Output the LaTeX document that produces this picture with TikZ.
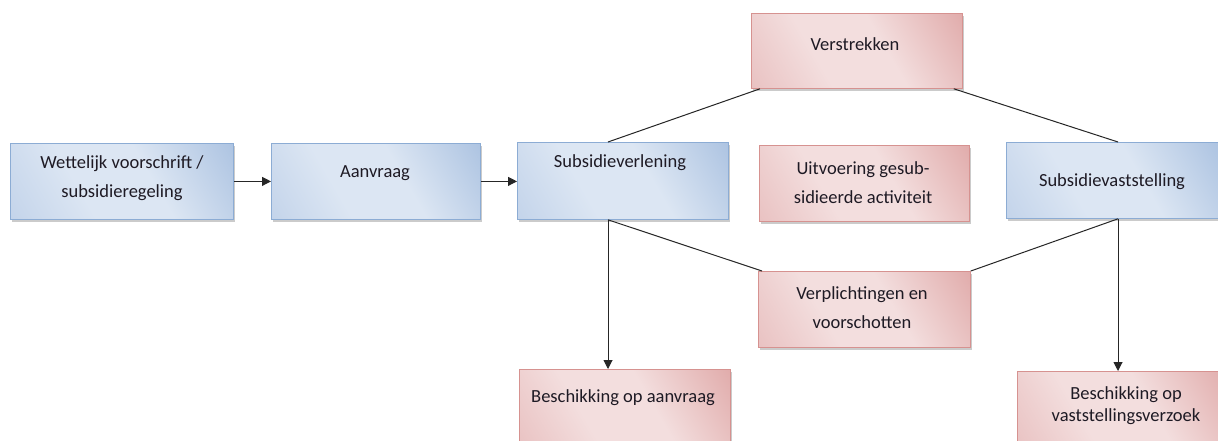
\documentclass[tikz,border=0pt]{standalone}
\usepackage{fontspec}
\setmainfont{Carlito}
\usetikzlibrary{shadows,arrows.meta}
\definecolor{bdark}{RGB}{145,175,215}
\definecolor{bmid}{RGB}{178,199,228}
\definecolor{blight}{RGB}{220,230,243}
\definecolor{bborder}{RGB}{140,172,212}
\definecolor{rdark}{RGB}{214,142,141}
\definecolor{rmid}{RGB}{226,174,174}
\definecolor{rlight}{RGB}{243,222,222}
\definecolor{rborder}{RGB}{214,146,144}
\definecolor{txt}{RGB}{30,26,36}
\pgfdeclarehorizontalshading{blueshade}{100bp}{color(0bp)=(bmid); color(38bp)=(blight); color(58bp)=(blight); color(100bp)=(bdark)}
\pgfdeclarehorizontalshading{redshade}{100bp}{color(0bp)=(rmid); color(38bp)=(rlight); color(58bp)=(rlight); color(100bp)=(rdark)}
\tikzset{
  boxbase/.style={rectangle, anchor=north west, inner sep=0pt, line width=0.8pt,
    drop shadow={shadow xshift=2pt, shadow yshift=-3pt, fill=black!45, opacity=0.45}},
  bluebox/.style={boxbase, draw=bborder, shading=blueshade, shading angle=30},
  redbox/.style={boxbase, draw=rborder, shading=redshade, shading angle=30},
  lbl/.style={font=\fontsize{18.5}{29}\selectfont, text=txt, align=center, inner sep=0pt},
  conn/.style={line width=1pt, draw=black!85},
  arr/.style={conn, -{Triangle[length=9pt,width=9pt]}},
}
\begin{document}
\begin{tikzpicture}[x=1pt,y=-1pt]
\clip (0,0) rectangle (1218,441);
\fill[white] (0,0) rectangle (1218,441);
% boxes
\node[bluebox, minimum width=223pt, minimum height=76pt] (b1) at (10,143) {};
\node[bluebox, minimum width=209pt, minimum height=76pt] (b2) at (271,143) {};
\node[bluebox, minimum width=211pt, minimum height=77pt] (b3) at (517,142) {};
\node[redbox,  minimum width=210pt, minimum height=76pt] (b4) at (759,145) {};
\node[redbox,  minimum width=211pt, minimum height=75pt] (b5) at (751,13) {};
\node[bluebox, minimum width=212pt, minimum height=76pt] (b6) at (1006,142) {};
\node[redbox,  minimum width=212pt, minimum height=76pt] (b7) at (758,271) {};
\node[redbox,  minimum width=211pt, minimum height=80pt] (b8) at (519,369) {};
\node[redbox,  minimum width=211pt, minimum height=80pt] (b9) at (1017,371) {};
% labels
\node[lbl] (t1) at (122,178) {Wettelijk voorschrift /\\subsidieregeling};
\node[lbl] (t2) at (375,173) {Aanvraag};
\node[lbl] (t3) at (620,163) {Subsidieverlening};
\node[lbl] (t4) at (863,183) {Uitvoering gesub-\\sidieerde activiteit};
\node[lbl] (t5) at (855,44) {Verstrekken};
\node[lbl] (t6) at (1112,182) {Subsidievaststelling};
\node[lbl] (t7) at (862,308) {Verplichtingen en\\voorschotten};
\node[lbl] (t8) at (623,398) {Beschikking op aanvraag};
\node[lbl, font=\fontsize{18.5}{22}\selectfont] (t9) at (1126,406) {Beschikking op\\vaststellingsverzoek};
% connectors
\draw[arr] (b1.east) -- (b2.west);
\draw[arr] (b2.east) -- (b3.west |- b2.east);
\draw[conn] ([xshift=91pt]b3.north west) -- ([xshift=9pt]b5.south west);
\draw[conn] ([xshift=-9pt]b5.south east) -- ([xshift=112pt]b6.north west);
\draw[conn] ([xshift=91pt]b3.south west) -- ([xshift=4pt]b7.north west);
\draw[conn] (b7.north east) -- ([xshift=112pt]b6.south west);
\draw[arr] ([xshift=91pt]b3.south west) -- ([xshift=89pt]b8.north west);
\draw[arr] ([xshift=112pt]b6.south west) -- ([xshift=101pt]b9.north west);
\end{tikzpicture}
\end{document}
